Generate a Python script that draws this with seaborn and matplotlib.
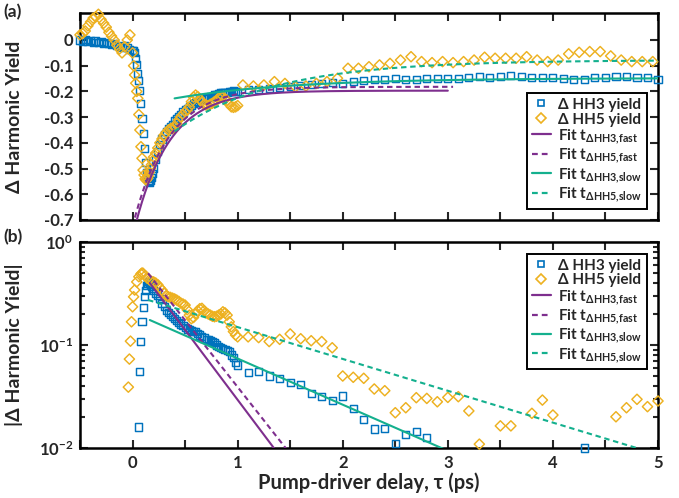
import numpy as np
import matplotlib
matplotlib.use("Agg")
import matplotlib.pyplot as plt
from matplotlib.lines import Line2D
from matplotlib.ticker import MultipleLocator, FixedLocator, FuncFormatter, LogLocator, NullFormatter
import seaborn as sns

# ---------------- data ----------------
# fine delay scan (ps), shared by both harmonics in panel (a)
t_fine = [-0.500, -0.475, -0.450, -0.425, -0.400, -0.375, -0.350, -0.325, -0.300, -0.275,
          -0.250, -0.225, -0.200, -0.175, -0.150, -0.125, -0.100, -0.075, -0.050, -0.025, 0.000,
          0.01, 0.02, 0.03, 0.04, 0.05, 0.06, 0.07, 0.08, 0.09, 0.10,
          0.11, 0.12, 0.13, 0.14, 0.15, 0.16, 0.17, 0.18, 0.19, 0.20,
          0.22, 0.24, 0.26, 0.28, 0.30, 0.32, 0.34, 0.36, 0.38, 0.40,
          0.42, 0.44, 0.46, 0.48, 0.50, 0.52, 0.54, 0.56, 0.58, 0.60,
          0.62, 0.64, 0.66, 0.68, 0.70, 0.72, 0.74, 0.76, 0.78, 0.80,
          0.82, 0.84, 0.86, 0.88, 0.90, 0.92, 0.94, 0.96, 0.98, 1.00]

hh3_fine = [0.000, -0.004, 0.002, -0.006, -0.002, -0.008, -0.004, -0.010, -0.006, -0.012,
            -0.008, -0.014, -0.016, -0.012, -0.020, -0.024, -0.028, -0.022, -0.030, -0.036, -0.040,
            -0.042, -0.050, -0.071, -0.097, -0.130, -0.158, -0.195, -0.246, -0.305, -0.363,
            -0.421, -0.476, -0.517, -0.537, -0.550, -0.553, -0.548, -0.535, -0.518, -0.498,
            -0.465, -0.435, -0.405, -0.385, -0.368, -0.355, -0.345, -0.338, -0.328, -0.315,
            -0.305, -0.298, -0.290, -0.280, -0.272, -0.265, -0.260, -0.253, -0.248, -0.243,
            -0.238, -0.233, -0.230, -0.227, -0.224, -0.222, -0.220, -0.218, -0.214, -0.211,
            -0.208, -0.206, -0.205, -0.205, -0.203, -0.202, -0.200, -0.198, -0.200, -0.200]

hh5_fine = [0.020, 0.025, 0.035, 0.055, 0.070, 0.085, 0.090, 0.100, 0.080, 0.065,
            0.050, 0.030, 0.015, 0.000, -0.020, -0.035, -0.050, -0.026, 0.000, 0.020, -0.050,
            -0.100, -0.136, -0.168, -0.200, -0.227, -0.290, -0.350, -0.415, -0.460, -0.506,
            -0.525, -0.540, -0.545, -0.540, -0.530, -0.515, -0.500, -0.485, -0.470, -0.455,
            -0.440, -0.420, -0.400, -0.385, -0.370, -0.360, -0.350, -0.345, -0.345, -0.340,
            -0.325, -0.310, -0.298, -0.290, -0.280, -0.272, -0.260, -0.240, -0.222, -0.214,
            -0.220, -0.230, -0.240, -0.250, -0.253, -0.255, -0.250, -0.246, -0.240, -0.235,
            -0.225, -0.220, -0.220, -0.230, -0.235, -0.250, -0.260, -0.262, -0.260, -0.255]

# coarse delay scan (ps)
t_coarse = [1.1, 1.2, 1.3, 1.4, 1.5, 1.6, 1.7, 1.8, 1.9, 2.0,
            2.1, 2.2, 2.3, 2.4, 2.5, 2.6, 2.7, 2.8, 2.9, 3.0,
            3.1, 3.2, 3.3, 3.4, 3.5, 3.6, 3.7, 3.8, 3.9, 4.0,
            4.1, 4.2, 4.3, 4.4, 4.5, 4.6, 4.7, 4.8, 4.9, 5.0]
hh3_coarse = [-0.191, -0.192, -0.187, -0.184, -0.180, -0.178, -0.172, -0.170, -0.167, -0.169,
              -0.162, -0.156, -0.153, -0.153, -0.149, -0.152, -0.152, -0.151, -0.149, -0.149,
              -0.149, -0.147, -0.143, -0.147, -0.143, -0.139, -0.143, -0.147, -0.147, -0.147,
              -0.149, -0.152, -0.152, -0.147, -0.147, -0.143, -0.143, -0.147, -0.147, -0.152]

t5_coarse = [1.05, 1.15, 1.25, 1.35, 1.45, 1.55, 1.65, 1.75, 1.85, 1.95,
             2.05, 2.15, 2.25, 2.35, 2.45, 2.55, 2.65, 2.75, 2.85, 2.95,
             3.05, 3.15, 3.25, 3.35, 3.45, 3.55, 3.65, 3.75, 3.85, 3.95,
             4.05, 4.15, 4.25, 4.35, 4.45, 4.55, 4.65, 4.75, 4.85, 4.95]
hh5_coarse = [-0.175, -0.179, -0.175, -0.162, -0.169, -0.182, -0.179, -0.169, -0.162, -0.149,
              -0.110, -0.110, -0.104, -0.097, -0.091, -0.078, -0.065, -0.084, -0.088, -0.084,
              -0.088, -0.084, -0.078, -0.067, -0.071, -0.071, -0.071, -0.065, -0.078, -0.084,
              -0.078, -0.054, -0.048, -0.045, -0.045, -0.062, -0.078, -0.084, -0.084, -0.084]

# panel (b): |change| relative to the long-delay level
t3_abs = [0.055, 0.07, 0.08, 0.09, 0.10, 0.11, 0.12, 0.13, 0.14, 0.15,
          0.16, 0.17, 0.18, 0.19, 0.20,
          0.22, 0.24, 0.26, 0.28, 0.30, 0.32, 0.34, 0.36, 0.38, 0.40,
          0.42, 0.44, 0.46, 0.48, 0.50, 0.52, 0.54, 0.56, 0.58, 0.60,
          0.62, 0.64, 0.66, 0.68, 0.70, 0.72, 0.74, 0.76, 0.78, 0.80,
          0.82, 0.84, 0.86, 0.88, 0.90, 0.92, 0.94, 0.96, 0.98, 1.00,
          1.1, 1.2, 1.3, 1.4, 1.5, 1.6, 1.7, 1.8, 1.9, 2.0,
          2.1, 2.2, 2.3, 2.4, 2.5, 2.6, 2.7, 2.8, 4.3]
hh3_abs = [0.016, 0.055, 0.108, 0.168, 0.230, 0.294, 0.340, 0.380, 0.400, 0.410,
           0.400, 0.390, 0.370, 0.355, 0.340,
           0.320, 0.300, 0.280, 0.255, 0.236, 0.215, 0.205, 0.198, 0.190, 0.180,
           0.172, 0.165, 0.160, 0.155, 0.148, 0.143, 0.140, 0.138, 0.136, 0.135,
           0.130, 0.125, 0.120, 0.117, 0.114, 0.112, 0.110, 0.108, 0.105, 0.100,
           0.097, 0.094, 0.092, 0.090, 0.088, 0.086, 0.080, 0.075, 0.068, 0.064,
           0.054, 0.055, 0.050, 0.047, 0.0435, 0.041, 0.034, 0.0315, 0.029, 0.032,
           0.0243, 0.0191, 0.0153, 0.0155, 0.011, 0.0136, 0.0144, 0.0127, 0.0100]

t5_abs = [-0.04, -0.03, -0.02, -0.01, 0.00, 0.01, 0.02, 0.04, 0.06, 0.08,
          0.09, 0.10, 0.12, 0.14, 0.16, 0.18, 0.20,
          0.22, 0.24, 0.26, 0.28, 0.30, 0.32, 0.34, 0.36, 0.38, 0.40,
          0.42, 0.44, 0.46, 0.48, 0.50, 0.52, 0.54, 0.56, 0.58, 0.60,
          0.62, 0.64, 0.66, 0.68, 0.70, 0.72, 0.74, 0.76, 0.78, 0.80,
          0.82, 0.84, 0.86, 0.88, 0.90, 0.92, 0.94, 0.96, 0.98, 1.00,
          1.1, 1.2, 1.3, 1.4, 1.5, 1.6, 1.7, 1.8, 1.9, 2.0,
          2.1, 2.2, 2.3, 2.4, 2.5, 2.6, 2.7, 2.8, 2.9, 3.0,
          3.1, 3.2, 3.3, 3.5, 3.6, 3.8, 3.9, 4.0, 4.6, 4.7, 4.8, 4.9, 5.0]
hh5_abs = [0.039, 0.073, 0.109, 0.168, 0.235, 0.294, 0.342, 0.410, 0.460, 0.490,
           0.500, 0.497, 0.470, 0.445, 0.430, 0.415, 0.410,
           0.400, 0.385, 0.360, 0.342, 0.320, 0.300, 0.294, 0.290, 0.285, 0.280,
           0.273, 0.265, 0.255, 0.250, 0.244, 0.220, 0.195, 0.180, 0.185, 0.200,
           0.215, 0.225, 0.227, 0.215, 0.205, 0.200, 0.195, 0.190, 0.188, 0.190,
           0.195, 0.200, 0.210, 0.205, 0.195, 0.168, 0.150, 0.135, 0.125, 0.120,
           0.120, 0.118, 0.108, 0.1135, 0.128, 0.115, 0.110, 0.108, 0.094, 0.050,
           0.0486, 0.0475, 0.0374, 0.036, 0.022, 0.0246, 0.0308, 0.0303, 0.0281, 0.031,
           0.0315, 0.0229, 0.0109, 0.0164, 0.0164, 0.0217, 0.0292, 0.0209,
           0.0201, 0.0246, 0.0297, 0.0252, 0.0286]

# exponential fits: offset, amplitude, time constant (ps), start, end
fit_labels = ["Fit $\\mathregular{t_{ΔHH3{,}fast}}$", "Fit $\\mathregular{t_{ΔHH5{,}fast}}$",
              "Fit $\\mathregular{t_{ΔHH3{,}slow}}$", "Fit $\\mathregular{t_{ΔHH5{,}slow}}$"]
fit_offset_a = [-0.197, -0.182, -0.148, -0.078]
fit_amp_a = [0.568, 0.543, 0.113, 0.422]
fit_tau_a = [0.330, 0.339, 1.12, 0.95]
fit_start_a = [0.0, 0.0, 0.40, 0.40]
fit_end_a = [3.00, 3.05, 5.0, 5.0]

fit_amp_b = [0.668, 0.773, 0.207, 0.304]
fit_tau_b = [0.320, 0.335, 0.97, 1.405]
fit_start_b = [0.164, 0.148, 0.164, 0.148]
fit_end_b = [1.45, 1.55, 3.1, 5.0]

# ---------------- style ----------------
C_HH3 = "#0072BD"
C_HH5 = "#EDB120"
C_FAST = "#7E2F8E"
C_SLOW = "#14B08E"
fit_colors = [C_FAST, C_FAST, C_SLOW, C_SLOW]
DASH = (0, (2.6, 1.8))
fit_styles = ["-", DASH, "-", DASH]

sns.set_theme(style="ticks")
plt.rcParams["font.family"] = ["Lato", "DejaVu Sans"]
plt.rcParams["font.weight"] = "bold"
plt.rcParams["axes.labelweight"] = "bold"
plt.rcParams["axes.unicode_minus"] = False
plt.rcParams["axes.linewidth"] = 1.6
plt.rcParams["axes.edgecolor"] = "black"

fig = plt.figure(figsize=(6.79, 4.98), dpi=100)
W, H = 679, 498
ax1 = fig.add_axes([80 / W, 1 - 220 / H, 578 / W, 207 / H])
ax2 = fig.add_axes([80 / W, 1 - 448 / H, 578 / W, 206 / H])

sq_kw = dict(marker="s", s=26, facecolor="none", edgecolor=C_HH3, linewidth=1.05, clip_on=False, zorder=3)
dm_kw = dict(marker="D", s=27, facecolor="none", edgecolor=C_HH5, linewidth=1.05, clip_on=False, zorder=3)

# panel (a)
sns.scatterplot(x=t_fine + t_coarse, y=hh3_fine + hh3_coarse, ax=ax1, **sq_kw)
sns.scatterplot(x=t_fine + t5_coarse, y=hh5_fine + hh5_coarse, ax=ax1, **dm_kw)
for c, a, tau, t0, t1, col, ls in zip(fit_offset_a, fit_amp_a, fit_tau_a, fit_start_a, fit_end_a,
                                      fit_colors, fit_styles):
    tt = np.linspace(t0, t1, 300)
    sns.lineplot(x=tt, y=c - a * np.exp(-tt / tau), ax=ax1, color=col, linestyle=ls,
                 linewidth=1.5, zorder=4)

# panel (b)
sns.scatterplot(x=t3_abs, y=hh3_abs, ax=ax2, **sq_kw)
sns.scatterplot(x=t5_abs, y=hh5_abs, ax=ax2, **dm_kw)
for a, tau, t0, t1, col, ls in zip(fit_amp_b, fit_tau_b, fit_start_b, fit_end_b, fit_colors, fit_styles):
    tt = np.linspace(t0, t1, 300)
    sns.lineplot(x=tt, y=a * np.exp(-tt / tau), ax=ax2, color=col, linestyle=ls,
                 linewidth=1.5, zorder=4)

# axes formatting
for ax in (ax1, ax2):
    ax.set_xlim(-0.5, 5.0)
    ax.xaxis.set_major_locator(MultipleLocator(0.5))
    ax.tick_params(which="both", direction="in", top=True, right=True, width=1.5,
                   labelsize=12, pad=5)
    ax.tick_params(which="major", length=6)
    ax.tick_params(which="minor", length=3.5)
    for sp in ax.spines.values():
        sp.set_linewidth(1.8)

ax1.set_ylim(-0.7, 0.105)
ax1.yaxis.set_major_locator(FixedLocator([-0.7, -0.6, -0.5, -0.4, -0.3, -0.2, -0.1, 0.0]))
ax1.yaxis.set_major_formatter(FuncFormatter(lambda v, p: "0" if abs(v) < 1e-9 else f"{v:.1f}"))
ax1.tick_params(axis="x", labelbottom=False)
ax1.set_xlabel("")
ax1.set_ylabel("Δ Harmonic Yield", fontsize=14)
ax1.yaxis.set_label_coords(-0.098, 0.5)

ax2.set_yscale("log")
ax2.set_ylim(1e-2, 1e0)
ax2.yaxis.set_major_locator(LogLocator(base=10))
ax2.yaxis.set_minor_locator(LogLocator(base=10, subs=np.arange(2, 10)))
ax2.yaxis.set_minor_formatter(NullFormatter())
ax2.xaxis.set_major_formatter(FuncFormatter(lambda v, p: f"{v:.0f}" if abs(v - round(v)) < 1e-9 else ""))
ax2.set_xlabel("Pump-driver delay, τ (ps)", fontsize=14.5, labelpad=1)
ax2.set_ylabel("|Δ Harmonic Yield|", fontsize=14)
ax2.yaxis.set_label_coords(-0.098, 0.5)

# legends
handles = [Line2D([], [], marker="s", ls="none", mfc="none", mec=C_HH3, mew=1.2, ms=5.0),
           Line2D([], [], marker="D", ls="none", mfc="none", mec=C_HH5, mew=1.2, ms=5.5)]
handles += [Line2D([], [], color=col, ls=ls, lw=1.6) for col, ls in zip(fit_colors, fit_styles)]
labels = ["Δ HH3 yield", "Δ HH5 yield"] + fit_labels
leg_kw = dict(fontsize=11, frameon=True, fancybox=False, edgecolor="black", framealpha=1,
              borderaxespad=0, handlelength=1.3, handletextpad=0.45, labelspacing=0.05,
              borderpad=0.3)
leg1 = ax1.legend(handles, labels, loc="lower right", bbox_to_anchor=(0.981, 0.055), **leg_kw)
leg2 = ax2.legend(handles, labels, loc="upper right", bbox_to_anchor=(0.981, 0.942), **leg_kw)
for leg in (leg1, leg2):
    leg.get_frame().set_linewidth(1.4)

fig.text(3 / W, 1 - 4 / H, "(a)", fontsize=12.5, fontweight="bold", va="top", ha="left")
fig.text(3 / W, 1 - 229 / H, "(b)", fontsize=12.5, fontweight="bold", va="top", ha="left")

fig.savefig("out.png", dpi=100)
